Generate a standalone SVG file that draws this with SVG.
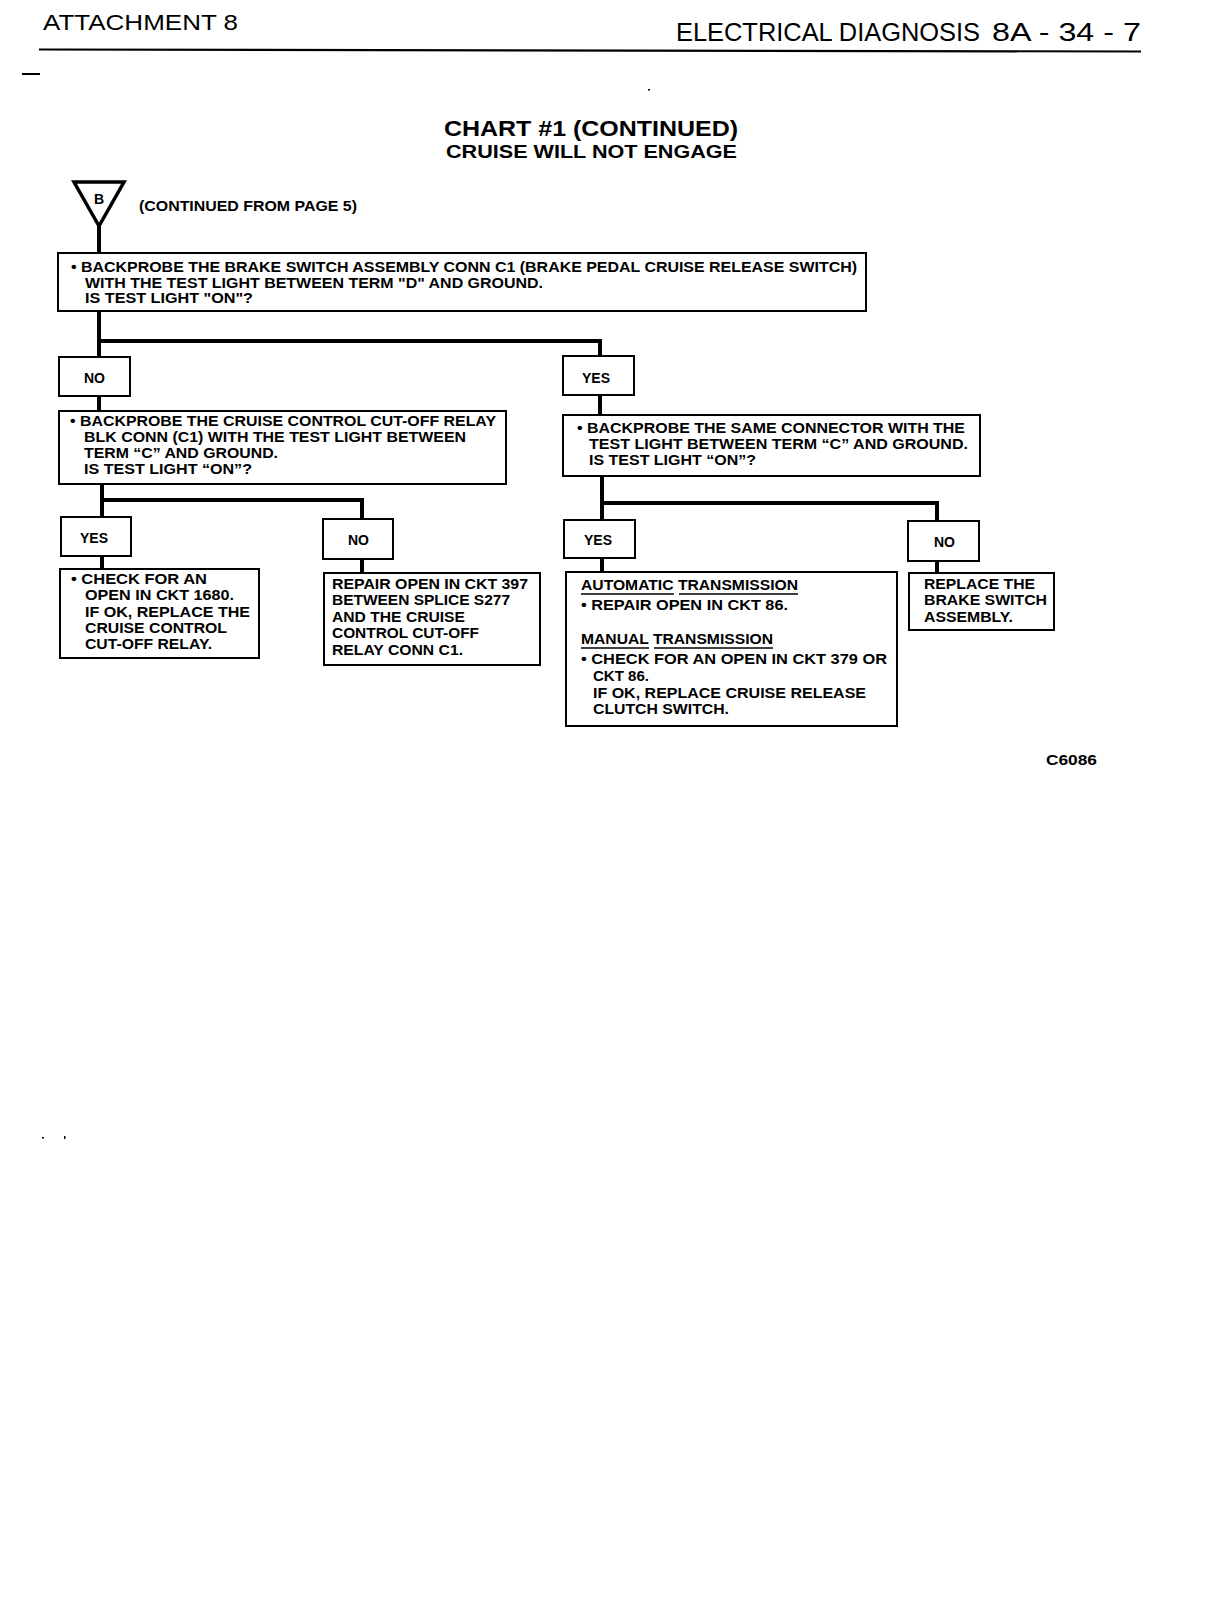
<svg xmlns="http://www.w3.org/2000/svg" width="1232" height="1600" viewBox="0 0 1232 1600">
<style>
.bg{fill:#ffffff}
.box{fill:#ffffff;stroke:#000;stroke-width:2}
.lbl{fill:#ffffff;stroke:#000;stroke-width:2}
.conn{fill:none;stroke:#000;stroke-width:4;stroke-linecap:square}
.t{font-family:"Liberation Sans",Arial,sans-serif;font-size:14px;font-weight:bold;fill:#000}
.h{font-family:"Liberation Sans",Arial,sans-serif;fill:#000}
.ul{stroke:#000;stroke-width:1.6}
</style>
<rect class="bg" x="0" y="0" width="1232" height="1600"/>

<g id="header">
<text class="h" x="43" y="30" font-size="22" textLength="195" lengthAdjust="spacingAndGlyphs">ATTACHMENT 8</text>
<text class="h" x="676" y="41" font-size="25" textLength="304" lengthAdjust="spacingAndGlyphs">ELECTRICAL DIAGNOSIS</text>
<text class="h" x="992" y="41" font-size="25" textLength="149" lengthAdjust="spacingAndGlyphs">8A - 34 - 7</text>
<line x1="39" y1="49.5" x2="1141" y2="51.5" stroke="#000" stroke-width="2.2"/>
<line x1="22" y1="74" x2="40" y2="74" stroke="#000" stroke-width="2"/>
<rect x="648" y="89" width="2" height="1.5" fill="#000"/>
</g>

<g id="title">
<text class="h" x="444" y="136" font-size="22" font-weight="bold" textLength="294" lengthAdjust="spacingAndGlyphs">CHART #1 (CONTINUED)</text>
<text class="h" x="446" y="158" font-size="19" font-weight="bold" textLength="291" lengthAdjust="spacingAndGlyphs">CRUISE WILL NOT ENGAGE</text>
</g>

<g id="connectors">
<line class="conn" x1="99" y1="226" x2="99" y2="253"/>
<polyline class="conn" points="99,311 99,357"/>
<polyline class="conn" points="99,341 600,341 600,356"/>
<line class="conn" x1="99" y1="396" x2="99" y2="411"/>
<line class="conn" x1="600" y1="395" x2="600" y2="415"/>
<polyline class="conn" points="102,484 102,517"/>
<polyline class="conn" points="102,500 362,500 362,519"/>
<line class="conn" x1="102" y1="556" x2="102" y2="569"/>
<line class="conn" x1="362" y1="559" x2="362" y2="573"/>
<polyline class="conn" points="602,476 602,520"/>
<polyline class="conn" points="602,503 937,503 937,521"/>
<line class="conn" x1="602" y1="558" x2="602" y2="572"/>
<line class="conn" x1="937" y1="561" x2="937" y2="573"/>
</g>

<g id="start-B">
<polygon points="74,182 124,182 99,226" fill="#fff" stroke="#000" stroke-width="3.5" stroke-linejoin="miter"/>
<text class="t" x="99" y="204" font-size="12" font-weight="normal" text-anchor="middle">B</text>
<text class="t" x="139" y="211" textLength="218" lengthAdjust="spacingAndGlyphs">(CONTINUED FROM PAGE 5)</text>
</g>

<g id="q1">
<rect class="box" x="58" y="253" width="808" height="58"/>
<text class="t" x="71" y="272" textLength="786" lengthAdjust="spacingAndGlyphs">• BACKPROBE THE BRAKE SWITCH ASSEMBLY CONN C1 (BRAKE PEDAL CRUISE RELEASE SWITCH)</text>
<text class="t" x="85" y="288" textLength="458" lengthAdjust="spacingAndGlyphs">WITH THE TEST LIGHT BETWEEN TERM "D" AND GROUND.</text>
<text class="t" x="85" y="303" textLength="168" lengthAdjust="spacingAndGlyphs">IS TEST LIGHT "ON"?</text>
</g>

<g id="no1">
<rect class="lbl" x="59" y="357" width="71" height="39"/>
<text class="t" x="84" y="383" font-size="13">NO</text>
</g>

<g id="yes1">
<rect class="lbl" x="563" y="356" width="71" height="39"/>
<text class="t" x="582" y="383" font-size="13">YES</text>
</g>

<g id="q2">
<rect class="box" x="59" y="411" width="447" height="73"/>
<text class="t" x="70" y="426" textLength="426" lengthAdjust="spacingAndGlyphs">• BACKPROBE THE CRUISE CONTROL CUT-OFF RELAY</text>
<text class="t" x="84" y="442" textLength="382" lengthAdjust="spacingAndGlyphs">BLK CONN (C1) WITH THE TEST LIGHT BETWEEN</text>
<text class="t" x="84" y="458" textLength="194" lengthAdjust="spacingAndGlyphs">TERM “C” AND GROUND.</text>
<text class="t" x="84" y="474" textLength="168" lengthAdjust="spacingAndGlyphs">IS TEST LIGHT “ON”?</text>
</g>

<g id="q3">
<rect class="box" x="563" y="415" width="417" height="61"/>
<text class="t" x="577" y="433" textLength="388" lengthAdjust="spacingAndGlyphs">• BACKPROBE THE SAME CONNECTOR WITH THE</text>
<text class="t" x="589" y="449" textLength="379" lengthAdjust="spacingAndGlyphs">TEST LIGHT BETWEEN TERM “C” AND GROUND.</text>
<text class="t" x="589" y="465" textLength="167" lengthAdjust="spacingAndGlyphs">IS TEST LIGHT “ON”?</text>
</g>

<g id="yes2">
<rect class="lbl" x="61" y="517" width="70" height="39"/>
<text class="t" x="80" y="543" font-size="13">YES</text>
</g>

<g id="no2">
<rect class="lbl" x="323" y="519" width="70" height="40"/>
<text class="t" x="348" y="545" font-size="13">NO</text>
</g>

<g id="yes3">
<rect class="lbl" x="564" y="520" width="71" height="38"/>
<text class="t" x="584" y="545" font-size="13">YES</text>
</g>

<g id="no3">
<rect class="lbl" x="908" y="521" width="71" height="40"/>
<text class="t" x="934" y="547" font-size="13">NO</text>
</g>

<g id="r1">
<rect class="box" x="60" y="569" width="199" height="89"/>
<text class="t" x="71" y="584" textLength="136" lengthAdjust="spacingAndGlyphs">• CHECK FOR AN</text>
<text class="t" x="85" y="600" textLength="149" lengthAdjust="spacingAndGlyphs">OPEN IN CKT 1680.</text>
<text class="t" x="85" y="617" textLength="165" lengthAdjust="spacingAndGlyphs">IF OK, REPLACE THE</text>
<text class="t" x="85" y="633" textLength="142" lengthAdjust="spacingAndGlyphs">CRUISE CONTROL</text>
<text class="t" x="85" y="649" textLength="127" lengthAdjust="spacingAndGlyphs">CUT-OFF RELAY.</text>
</g>

<g id="r2">
<rect class="box" x="324" y="573" width="216" height="92"/>
<text class="t" x="332" y="589" textLength="196" lengthAdjust="spacingAndGlyphs">REPAIR OPEN IN CKT 397</text>
<text class="t" x="332" y="605" textLength="178" lengthAdjust="spacingAndGlyphs">BETWEEN SPLICE S277</text>
<text class="t" x="332" y="622" textLength="133" lengthAdjust="spacingAndGlyphs">AND THE CRUISE</text>
<text class="t" x="332" y="638" textLength="147" lengthAdjust="spacingAndGlyphs">CONTROL CUT-OFF</text>
<text class="t" x="332" y="655" textLength="131" lengthAdjust="spacingAndGlyphs">RELAY CONN C1.</text>
</g>

<g id="r3">
<rect class="box" x="566" y="572" width="331" height="154"/>
<text class="t" x="581" y="590" textLength="217" lengthAdjust="spacingAndGlyphs">AUTOMATIC TRANSMISSION</text>
<line class="ul" x1="581" y1="594" x2="674" y2="594"/>
<line class="ul" x1="679" y1="594" x2="798" y2="594"/>
<text class="t" x="581" y="610" textLength="207" lengthAdjust="spacingAndGlyphs">• REPAIR OPEN IN CKT 86.</text>
<text class="t" x="581" y="644" textLength="192" lengthAdjust="spacingAndGlyphs">MANUAL TRANSMISSION</text>
<line class="ul" x1="581" y1="648" x2="649" y2="648"/>
<line class="ul" x1="654" y1="648" x2="773" y2="648"/>
<text class="t" x="581" y="664" textLength="306" lengthAdjust="spacingAndGlyphs">• CHECK FOR AN OPEN IN CKT 379 OR</text>
<text class="t" x="593" y="681" textLength="56" lengthAdjust="spacingAndGlyphs">CKT 86.</text>
<text class="t" x="593" y="698" textLength="273" lengthAdjust="spacingAndGlyphs">IF OK, REPLACE CRUISE RELEASE</text>
<text class="t" x="593" y="714" textLength="136" lengthAdjust="spacingAndGlyphs">CLUTCH SWITCH.</text>
</g>

<g id="r4">
<rect class="box" x="909" y="573" width="145" height="57"/>
<text class="t" x="924" y="589" textLength="111" lengthAdjust="spacingAndGlyphs">REPLACE THE</text>
<text class="t" x="924" y="605" textLength="123" lengthAdjust="spacingAndGlyphs">BRAKE SWITCH</text>
<text class="t" x="924" y="622" textLength="89" lengthAdjust="spacingAndGlyphs">ASSEMBLY.</text>
</g>

<g id="footer">
<text class="t" x="1046" y="765" textLength="51" lengthAdjust="spacingAndGlyphs">C6086</text>
<rect x="42" y="1137" width="2" height="1.5" fill="#000"/>
<rect x="64" y="1136" width="1.5" height="3" fill="#000"/>
</g>
</svg>
